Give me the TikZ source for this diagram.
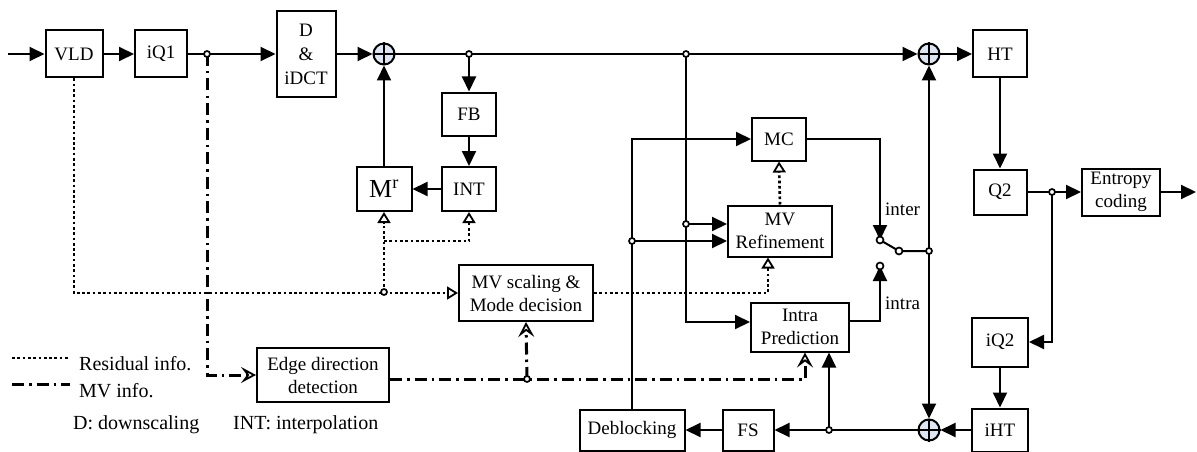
\documentclass[tikz,border=0pt]{standalone}
\usepackage{fontspec}
\setmainfont{Liberation Serif}
\usetikzlibrary{arrows.meta,calc}
\definecolor{adderfill}{HTML}{DDE6F2}
\begin{document}
\begin{tikzpicture}[x=1pt,y=-1pt,
  every node/.style={font=\fontsize{19}{23}\selectfont},
  blk/.style={draw, line width=2pt, align=center, inner sep=0pt},
  ln/.style={line width=2pt},
  arr/.style={ln, -{Triangle[length=15pt,width=14pt]}},
  res/.style={line width=2.7pt, dash pattern=on 2.7pt off 2.6pt},
  resarr/.style={res, -{Triangle[open,length=11pt,width=13pt,line width=1.8pt]}},
  mv/.style={line width=3pt, dash pattern=on 12pt off 5pt on 2.5pt off 5pt},
  mvarr/.style={mv, -{Stealth[open,length=15pt,width=16pt,inset=6pt,line width=1.8pt]}},
  adder/.style={circle, draw, line width=2pt, fill=adderfill, minimum size=21pt, inner sep=0pt},
  jdot/.style={circle, draw, line width=1.7pt, fill=white, minimum size=6pt, inner sep=0pt},
  cont/.style={circle, draw, line width=1.7pt, fill=white, minimum size=7pt, inner sep=0pt},
  lgd/.style={font=\fontsize{20}{24}\selectfont, inner sep=0pt},
]
\useasboundingbox (0,0) rectangle (1197,452);

% blocks
\node[blk, minimum width=57pt, minimum height=47pt] (VLD) at (74,54) {VLD};
\node[blk, minimum width=52pt, minimum height=47pt] (iQ1) at (161,54) {iQ1};
\node[blk, minimum width=59pt, minimum height=86pt, font=\fontsize{19}{24}\selectfont] (DIDCT) at (306,54) {D\\\&\\iDCT};
\node[adder] (A1) at (384,54) {};
\node[blk, minimum width=54pt, minimum height=43pt] (FB) at (469,114) {FB};
\node[blk, minimum width=54pt, minimum height=44pt] (INT) at (469,189) {INT};
\node[blk, minimum width=55pt, minimum height=44pt] (Mr) at (384,189) {\fontsize{26}{28}\selectfont M\textsuperscript{r}};
\node[blk, minimum width=54pt, minimum height=43pt] (MC) at (779,139) {MC};
\node[blk, minimum width=104pt, minimum height=51pt] (MVR) at (780,231) {MV\\Refinement};
\node[blk, minimum width=134pt, minimum height=56pt] (MVS) at (526,293) {MV scaling \&\\Mode decision};
\node[blk, minimum width=98pt, minimum height=49pt] (Intra) at (800,327) {Intra\\Prediction};
\node[blk, minimum width=132pt, minimum height=54pt] (Edge) at (323,375) {Edge direction\\detection};
\node[blk, minimum width=105pt, minimum height=41pt] (Debl) at (632,430) {Deblocking};
\node[blk, minimum width=51pt, minimum height=41pt] (FS) at (748,430) {FS};
\node[adder] (A3) at (929,430) {};
\node[blk, minimum width=56pt, minimum height=43pt] (iHT) at (1000,430) {iHT};
\node[blk, minimum width=56pt, minimum height=49pt] (iQ2) at (1000,342) {iQ2};
\node[blk, minimum width=53pt, minimum height=45pt] (Q2) at (1000,192) {Q2};
\node[blk, minimum width=78pt, minimum height=47pt] (Ent) at (1121,192) {Entropy\\coding};
\node[blk, minimum width=54pt, minimum height=47pt] (HT) at (1000,54) {HT};
\node[adder] (A2) at (929,54) {};

\foreach \a in {A1,A2,A3}{
  \draw[line width=1.5pt] (\a.north) -- (\a.south) (\a.west) -- (\a.east);
}

% coordinates
\coordinate (in) at (8,54);
\coordinate (out) at (1196,192);
\coordinate (j1) at (207,54);
\coordinate (j2) at (469,54);
\coordinate (j3) at (686,54);
\coordinate (j4) at (686,224);
\coordinate (j5) at (632,241);
\coordinate (j6) at (1052,192);
\coordinate (j7) at (829,430);
\coordinate (j8) at (929,251);
\coordinate (j9) at (384,292);
\coordinate (rb) at (384,241);
\coordinate (j10) at (527,379);
\coordinate (cTop) at (880,240);
\coordinate (piv) at (899,251);
\coordinate (cBot) at (880,266);

% solid connectors
\draw[arr] (in) -- (VLD.west);
\draw[arr] (VLD) -- (iQ1);
\draw[arr] (iQ1.east) -- (DIDCT.west);
\draw[arr] (DIDCT.east) -- (A1.west);
\draw[arr] (A1.east) -- (A2.west);
\draw[arr] (A2.east) -- (HT.west);
\draw[arr] (HT.south) -- (Q2.north);
\draw[arr] (Q2.east) -- (Ent.west);
\draw[arr] (Ent.east) -- (out);
\draw[arr] (j6) |- (iQ2.east);
\draw[arr] (iQ2.south) -- (iHT.north);
\draw[arr] (iHT.west) -- (A3.east);
\draw[arr] (A3.west) -- (FS.east);
\draw[arr] (FS.west) -- (Debl.east);
\draw[arr] (j7) -- (j7 |- Intra.south);
\draw[arr] (Debl.north) |- (MC.west);
\draw[arr] (j5) -- (j5 -| MVR.west);
\draw[arr] (j3) |- ($(Intra.west)+(0,-5)$);
\draw[arr] (j4) -- (j4 -| MVR.west);
\draw[arr] (j2) -- (FB.north);
\draw[arr] (FB) -- (INT);
\draw[arr] (INT) -- (Mr);
\draw[arr] (Mr.north) -- (A1.south);
\draw[arr] (j8) -- (A2.south);
\draw[arr] (j8) -- (A3.north);
\draw[arr] (MC.east) -| (cTop);
\draw[arr] ($(Intra.east)+(0,-6)$) -| (cBot);
\draw[ln] (cTop) -- (piv) -- (j8);
\node[cont] at (cTop) {};
\node[cont] at (cBot) {};
\node[cont] at (piv) {};
\node[anchor=west, inner sep=0pt] (linter) at (885,209) {inter};
\node[anchor=west, inner sep=0pt] (lintra) at (885,303) {intra};

% residual info (dotted)
\draw[resarr] (VLD.south) |- (MVS.west);
\draw[resarr] (j9) -- (Mr.south);
\draw[resarr] (rb) -| (INT.south);
\draw[resarr] (MVS.east) -| ($(MVR.south)+(-12,0)$);
\draw[resarr] (MVR.north) -- (MC.south);

% MV info (dash-dot)
\draw[mvarr] (j1) |- (Edge.west);
\draw[mvarr] ($(Edge.east)+(0,4)$) -| ($(Intra.south)+(5,0)$);
\draw[mvarr] (j10) -- (MVS.south);

% junction dots
\foreach \j in {j1,j2,j3,j4,j5,j6,j7,j8,j9,j10}{
  \node[jdot] at (\j) {};
}

% legend
\coordinate (lr1) at (12,358);
\coordinate (lr2) at (68,358);
\coordinate (lm1) at (12,384);
\coordinate (lm2) at (70,384);
\draw[res] (lr1) -- (lr2);
\draw[mv] (lm1) -- (lm2);
\node[lgd, anchor=base west] (tres) at (79,370) {Residual info.};
\node[lgd, anchor=base west] (tmv) at (79,397) {MV info.};
\node[lgd, anchor=base west] (tD) at (73,429) {D: downscaling};
\node[lgd, anchor=base west] (tINT) at (233,429) {INT: interpolation};
\end{tikzpicture}
\end{document}
